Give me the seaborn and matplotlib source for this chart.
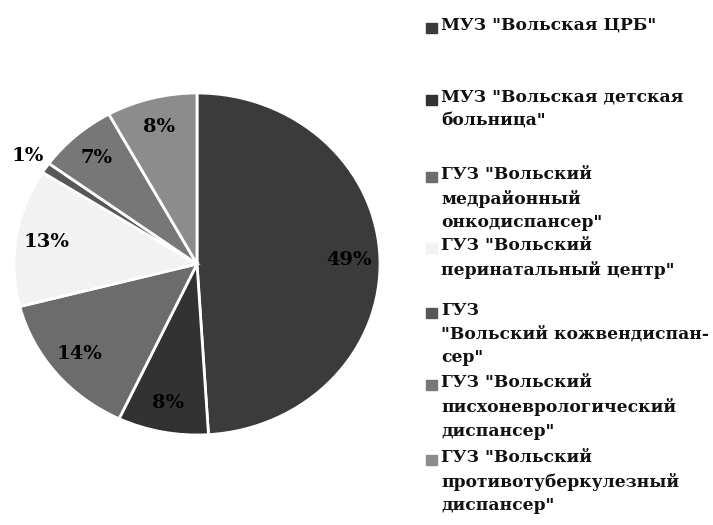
import numpy as np
import matplotlib
matplotlib.use("Agg")
import matplotlib.pyplot as plt
import seaborn as sns
from matplotlib.patches import Rectangle

# data
institutions = [
    'МУЗ "Вольская ЦРБ"',
    'МУЗ "Вольская детская\nбольница"',
    'ГУЗ "Вольский\nмедрайонный\nонкодиспансер"',
    'ГУЗ "Вольский\nперинатальный центр"',
    'ГУЗ\n"Вольский кожвендиспан-\nсер"',
    'ГУЗ "Вольский\nписхоневрологический\nдиспансер"',
    'ГУЗ "Вольский\nпротивотуберкулезный\nдиспансер"',
]
shares = [49, 8, 14, 13, 1, 7, 8]
slice_colors = ["#3b3b3b", "#323232", "#6c6c6c", "#f2f2f2", "#575757", "#777777", "#8c8c8c"]

# legend layout (pixel rows of first line of each entry)
legend_rows = [28, 100, 177, 248, 313, 385, 460]

sns.set_theme(style="white")
plt.rcParams['font.family'] = ['DejaVu Serif']

W, H = 713, 525
fig = plt.figure(figsize=(W / 100, H / 100), dpi=100)
ax = fig.add_axes([14 / W, 90 / H, 366 / W, 342 / H])

wedges, texts, autotexts = ax.pie(
    shares, colors=slice_colors, startangle=90, counterclock=False,
    autopct='%.0f%%', pctdistance=0.83,
    wedgeprops=dict(edgecolor='white', linewidth=2),
    textprops=dict(fontsize=14, fontweight='bold', color='black'),
)
ax.set_aspect('auto')
ax.set_xlim(-1, 1)
ax.set_ylim(-1, 1)

# the tiny 1% slice gets its label outside the pie
small = int(np.argmin(shares))
w = wedges[small]
mid = np.deg2rad((w.theta1 + w.theta2) / 2)
autotexts[small].set_position((1.12 * np.cos(mid), 1.12 * np.sin(mid)))
autotexts[small].set_clip_on(False)

# legend drawn as text entries with square swatches
for label, color, row in zip(institutions, slice_colors, legend_rows):
    fig.patches.append(Rectangle((426 / W, 1 - (row + 5) / H), 11 / W, 10 / H,
                                 transform=fig.transFigure, color=color))
    fig.text(441 / W, 1 - (row - 11) / H, label, va='top', ha='left',
             fontsize=12.3, fontweight='bold', linespacing=1.5, color='#111111')

fig.savefig('out.png', dpi=100)
